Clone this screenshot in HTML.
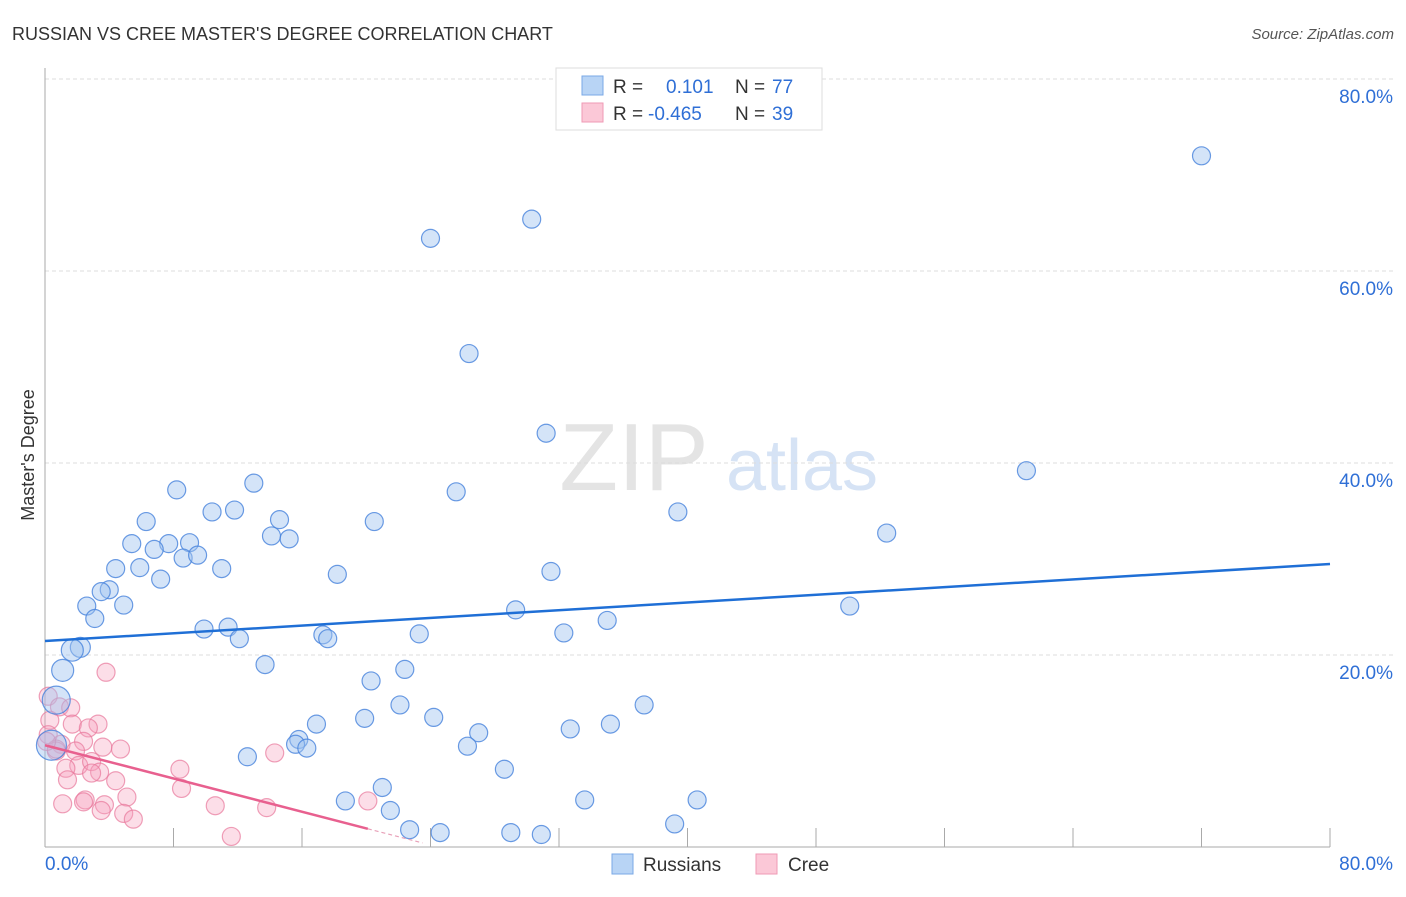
<!DOCTYPE html>
<html><head><meta charset="utf-8"><style>
body{margin:0;background:#fff;font-family:"Liberation Sans",sans-serif;}
svg text{font-family:"Liberation Sans",sans-serif;}
</style></head><body>
<svg id="chart" width="1406" height="892">
<text x="12" y="40" font-size="18" fill="#333">RUSSIAN VS CREE MASTER'S DEGREE CORRELATION CHART</text>
<text x="1394" y="39" font-size="15" fill="#555" text-anchor="end" font-style="italic">Source: ZipAtlas.com</text>
<g>
<text x="634" y="490" font-size="96" fill="#e4e4e4" text-anchor="middle" font-family="Liberation Serif,serif">ZIP</text>
<text x="802" y="490" font-size="72" fill="#d6e3f5" text-anchor="middle">atlas</text>
</g>
<g id="grid"></g>
<g id="axes"></g>
<g id="marks"></g>
<text x="-455" y="34" transform="rotate(-90)" font-size="18" fill="#333" text-anchor="middle">Master's Degree</text>
<g>
<rect x="556" y="68" width="266" height="62" fill="#fff" stroke="#ddd"/>
<rect x="582" y="76" width="21" height="19" fill="#b8d4f5" stroke="#7aa8e6"/>
<rect x="582" y="103" width="21" height="19" fill="#fbc8d7" stroke="#ef9ab4"/>
<text x="613" y="93" font-size="19" fill="#333">R =</text>
<text x="666" y="93" font-size="19" fill="#2f6fd6">0.101</text>
<text x="735" y="93" font-size="19" fill="#333">N =</text>
<text x="772" y="93" font-size="19" fill="#2f6fd6">77</text>
<text x="613" y="120" font-size="19" fill="#333">R =</text>
<text x="648" y="120" font-size="19" fill="#2f6fd6">-0.465</text>
<text x="735" y="120" font-size="19" fill="#333">N =</text>
<text x="772" y="120" font-size="19" fill="#2f6fd6">39</text>
</g>
<g>
<rect x="612" y="854" width="21" height="20" fill="#b8d4f5" stroke="#7aa8e6"/>
<text x="643" y="871" font-size="19" fill="#333">Russians</text>
<rect x="756" y="854" width="21" height="20" fill="#fbc8d7" stroke="#ef9ab4"/>
<text x="788" y="871" font-size="19" fill="#333">Cree</text>
</g>
</svg>
<script>
const yTicks=[20,40,60,80];
const yTickLabels=["20.0%","40.0%","60.0%","80.0%"];
const xTicks=[8,16,24,32,40,48,56,64,72,80];
const russiansX=[72.0,30.3,24.0,26.4,31.2,61.1,8.2,25.6,13.0,10.4,11.8,20.5,39.4,14.6,52.4,6.3,14.1,15.2,5.4,7.7,6.8,9.0,8.6,9.5,11.0,4.4,5.9,31.5,7.2,18.2,4.0,3.5,2.6,4.9,50.1,29.3,3.1,35.0,9.9,11.4,12.1,17.3,17.6,23.3,32.3,2.2,1.7,13.7,22.4,1.1,20.3,0.7,37.3,22.1,35.2,24.2,19.9,16.9,32.7,27.0,15.8,15.6,16.3,26.3,12.6,28.6,0.4,21.0,18.7,33.6,40.6,21.5,22.7,24.6,29.0,30.9,39.2];
const russiansY=[72.0,65.4,63.4,51.4,43.1,39.2,37.2,37.0,37.9,34.9,35.1,33.9,34.9,34.1,32.7,33.9,32.4,32.1,31.6,31.6,31.0,31.7,30.1,30.4,29.0,29.0,29.1,28.7,27.9,28.4,26.8,26.6,25.1,25.2,25.1,24.7,23.8,23.6,22.7,22.9,21.7,22.1,21.7,22.2,22.3,20.8,20.5,19.0,18.5,18.4,17.3,15.3,14.8,14.8,12.8,13.5,13.4,12.8,12.3,11.9,11.2,10.7,10.3,10.5,9.4,8.1,10.6,6.2,4.8,4.9,4.9,3.8,1.8,1.5,1.5,1.3,2.4];
const russiansR=[9,9,9,9,9,9,9,9,9,9,9,9,9,9,9,9,9,9,9,9,9,9,9,9,9,9,9,9,9,9,9,9,9,9,9,9,9,9,9,9,9,9,9,9,9,10,11,9,9,11,9,14,9,9,9,9,9,9,9,9,9,9,9,9,9,9,15,9,9,9,9,9,9,9,9,9,9];
const creeX=[3.8,0.2,0.9,1.6,0.3,1.7,3.3,2.7,0.2,2.4,1.0,3.6,4.7,0.7,1.9,2.1,1.3,2.9,3.4,2.9,8.4,1.4,4.4,14.3,8.5,5.1,1.1,2.5,2.4,3.7,10.6,13.8,3.5,4.9,5.5,20.1,11.6,0.7,0.1];
const creeY=[18.2,15.7,14.6,14.5,13.2,12.8,12.8,12.4,11.7,11.0,10.7,10.4,10.2,10.0,10.0,8.5,8.2,8.9,7.8,7.7,8.1,7.0,6.9,9.8,6.1,5.2,4.5,4.9,4.7,4.4,4.3,4.1,3.8,3.5,2.9,4.8,1.1,10.2,11.0];
const blueFit=[21.46,0.1002];
const pinkFit=[10.6,-0.433];
const pinkFitEnd=20.1, pinkDashEnd=23.5;

const X0=45,X1=1330,Y0=847,Y80=79;
const sx=v=>X0+(X1-X0)*v/80;
const sy=v=>Y0-(Y0-Y80)*v/80;
const NS="http://www.w3.org/2000/svg";
function mk(tag,parent,attrs){const e=document.createElementNS(NS,tag);for(const k in attrs)e.setAttribute(k,attrs[k]);parent.appendChild(e);return e;}
const grid=document.getElementById('grid'),axes=document.getElementById('axes'),marks=document.getElementById('marks');
yTicks.forEach((t,i)=>{
 const l=mk('line',grid,{x1:X0,x2:X1+64,y1:sy(t),y2:sy(t),stroke:'#ddd','stroke-dasharray':'4,3'});
 
 
 const tx=mk('text',axes,{x:1393,y:sy(t)+24,'font-size':19,fill:'#2f6fd6','text-anchor':'end'});
 tx.textContent=yTickLabels[i];
 
 
});
let a=mk('line',axes,{x1:X0,x2:X0,y1:68,y2:Y0,stroke:'#aaa'});


a=mk('line',axes,{x1:X0,x2:X1,y1:Y0,y2:Y0,stroke:'#aaa'});


xTicks.forEach(t=>{
 const l=mk('line',axes,{x1:sx(t),x2:sx(t),y1:Y0-19,y2:Y0,stroke:'#aaa'});
 
 
});
let t0=mk('text',axes,{x:45,y:870,'font-size':19,fill:'#2f6fd6'});t0.textContent='0.0%';


let t1=mk('text',axes,{x:1393,y:870,'font-size':19,fill:'#2f6fd6','text-anchor':'end'});t1.textContent='80.0%';


creeX.forEach((x,i)=>{
 const c=mk('circle',marks,{cx:sx(x),cy:sy(creeY[i]),r:9,fill:'rgba(246,160,188,0.35)',stroke:'rgba(232,120,155,0.7)','stroke-width':1.2});
 
 
});
russiansX.forEach((x,i)=>{
 const c=mk('circle',marks,{cx:sx(x),cy:sy(russiansY[i]),r:russiansR[i],fill:'rgba(160,196,240,0.45)',stroke:'rgba(70,130,220,0.8)','stroke-width':1.2});
 
 
});
let bl=mk('line',marks,{x1:sx(0),y1:sy(blueFit[0]),x2:sx(80),y2:sy(blueFit[0]+80*blueFit[1]),stroke:'#1f6fd6','stroke-width':2.5});


let pl=mk('line',marks,{x1:sx(0),y1:sy(pinkFit[0]),x2:sx(pinkFitEnd),y2:sy(pinkFit[0]+pinkFitEnd*pinkFit[1]),stroke:'#e8608f','stroke-width':2.5});


let pd=mk('line',marks,{x1:sx(pinkFitEnd),y1:sy(pinkFit[0]+pinkFitEnd*pinkFit[1]),x2:sx(pinkDashEnd),y2:sy(pinkFit[0]+pinkDashEnd*pinkFit[1]),stroke:'#e8a0b8','stroke-width':1.2,'stroke-dasharray':'4,3'});


</script>
</body></html>
